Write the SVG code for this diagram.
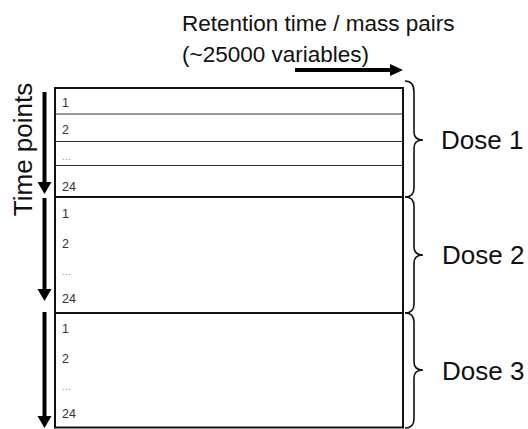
<svg xmlns="http://www.w3.org/2000/svg" width="528" height="429" viewBox="0 0 528 429">
<style>
.t{font-family:"Liberation Sans",Arial,sans-serif;fill:#111}
.title{font-size:22.5px}
.dose{font-size:26px}
.row{font-size:12.5px;fill:#333}
.dots{font-size:11px;fill:#999}
.thin{stroke:#333;stroke-width:1;fill:none}
.thick{stroke:#111;stroke-width:2;fill:none}
.brace{stroke:#111;stroke-width:1.6;fill:none}
.shaft{stroke:#000;stroke-width:4}
</style>
<rect width="528" height="429" fill="#fff"/>
<g id="title">
<text class="t title" x="182" y="31">Retention time / mass pairs</text>
<text class="t title" x="182" y="62">(~25000 variables)</text>
</g>
<g id="time-label">
<text class="t dose" transform="translate(32,149.5) rotate(-90)" text-anchor="middle">Time points</text>
</g>
<g id="connectors">
<line class="shaft" x1="295" y1="70" x2="391" y2="70"/>
<polygon points="390,64 403,70 390,76" fill="#000"/>
<line class="shaft" x1="44.5" y1="92" x2="44.5" y2="183"/>
<polygon points="37.5,182 51.5,182 44.5,194" fill="#000"/>
<line class="shaft" x1="44.5" y1="198" x2="44.5" y2="290"/>
<polygon points="37.5,289 51.5,289 44.5,301" fill="#000"/>
<line class="shaft" x1="44.5" y1="312" x2="44.5" y2="417"/>
<polygon points="37.5,416 51.5,416 44.5,428" fill="#000"/>
</g>
<g id="dose1">
<rect class="thick" x="55" y="88" width="348" height="109"/>
<line class="thin" x1="55" y1="114" x2="403" y2="114"/>
<line class="thin" x1="55" y1="141.5" x2="403" y2="141.5"/>
<line class="thin" x1="55" y1="165.5" x2="403" y2="165.5"/>
<text class="t row" x="62" y="106.5">1</text>
<text class="t row" x="62" y="133.5">2</text>
<text class="t dots" x="62" y="160">...</text>
<text class="t row" x="62" y="190.5">24</text>
<path class="brace" d="M405,81 Q414,81 414,92 L414,132 Q414,140 423,140 Q414,140 414,148 L414,188 Q414,197 405,197"/>
<text class="t dose" x="441" y="149">Dose 1</text>
</g>
<g id="dose2">
<rect class="thick" x="55" y="197" width="348" height="116"/>
<text class="t row" x="62" y="217.5">1</text>
<text class="t row" x="62" y="247.5">2</text>
<text class="t dots" x="62" y="275">...</text>
<text class="t row" x="62" y="302.5">24</text>
<path class="brace" d="M405,197 Q414,197 414,206 L414,247 Q414,255 423,255 Q414,255 414,263 L414,304 Q414,313 405,313"/>
<text class="t dose" x="442" y="264">Dose 2</text>
</g>
<g id="dose3">
<rect class="thick" x="55" y="313" width="348" height="114.5"/>
<text class="t row" x="62" y="332.5">1</text>
<text class="t row" x="62" y="362.5">2</text>
<text class="t dots" x="62" y="390">...</text>
<text class="t row" x="62" y="417.5">24</text>
<path class="brace" d="M405,313 Q414,313 414,322 L414,362 Q414,370 423,370 Q414,370 414,378 L414,419 Q414,428 405,428"/>
<text class="t dose" x="442" y="380">Dose 3</text>
</g>
</svg>
